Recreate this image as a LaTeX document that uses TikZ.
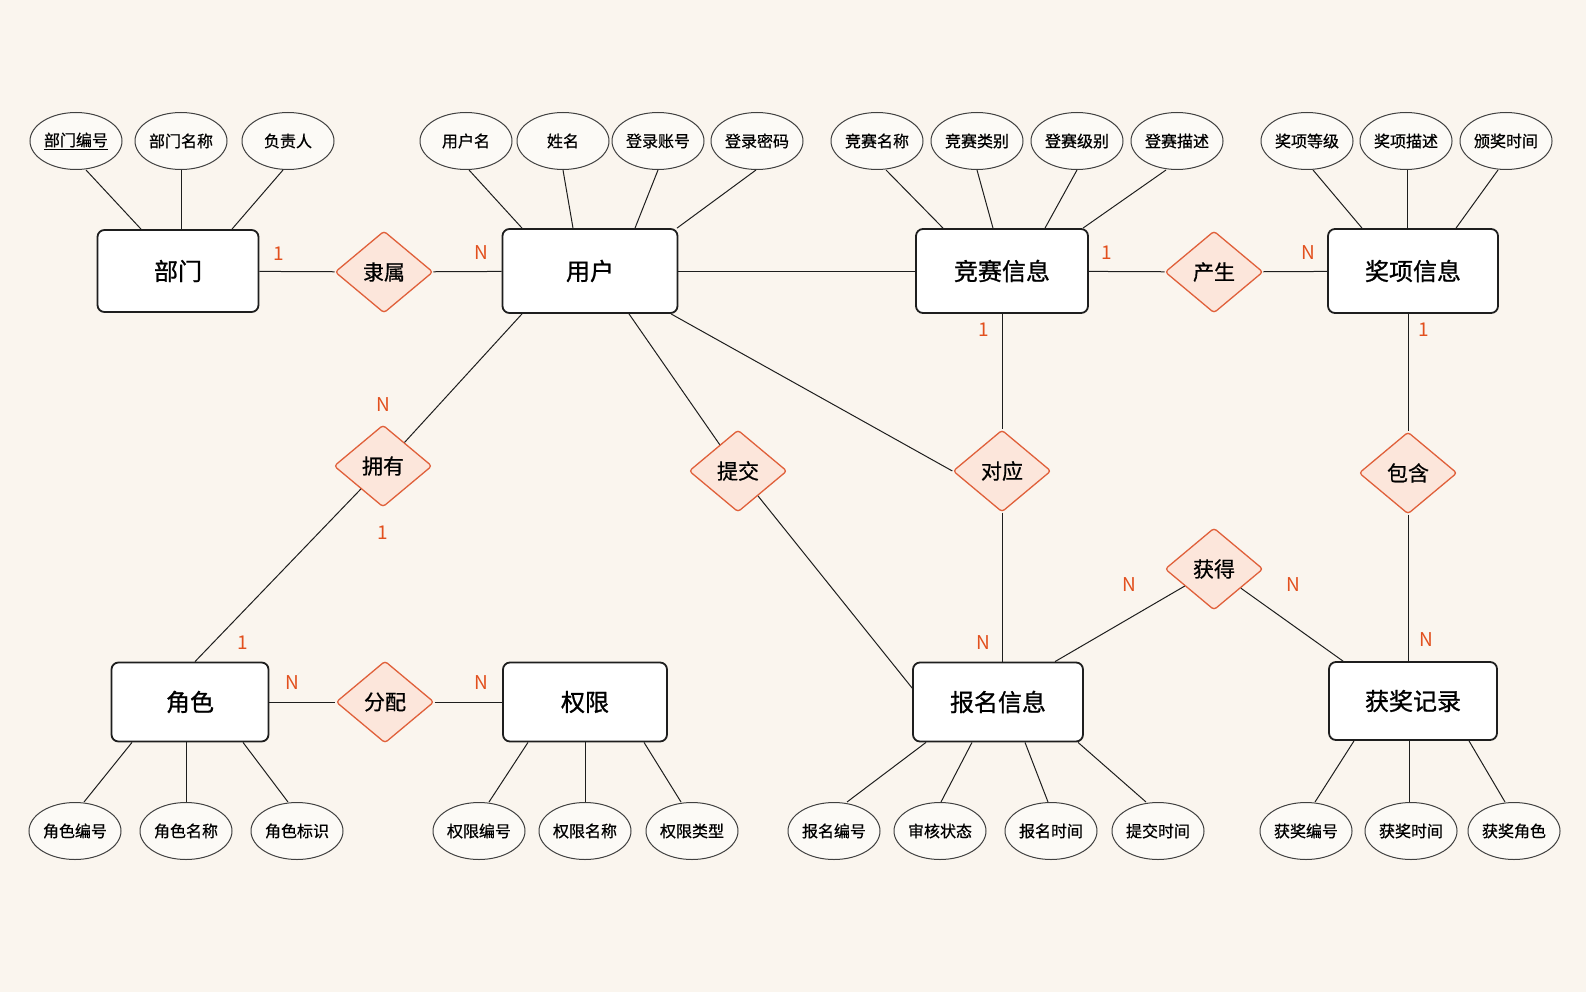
\documentclass[tikz,border=0pt]{standalone}
\usepackage{fontspec}
\setmainfont{Noto Sans CJK SC}
\newfontfamily\entfont[FakeBold=1.0]{Noto Sans CJK SC}
\newfontfamily\attfont[FakeBold=0.6]{Noto Sans CJK SC}
\usetikzlibrary{shapes.geometric}
\definecolor{bg}{HTML}{FAF5EE}
\definecolor{relc}{HTML}{E0603A}
\definecolor{relfill}{HTML}{FCE6DB}
\definecolor{card}{HTML}{E2501E}
\definecolor{ink}{HTML}{1E1E1E}
\begin{document}
\begin{tikzpicture}[x=1pt,y=-1pt,
 entity/.style={draw=ink, line width=1.8pt, rounded corners=7pt, fill=white, font=\entfont\fontsize{24}{28}\selectfont, inner sep=0},
 attr/.style={ellipse, draw=ink!85, line width=1pt, fill=bg!50!white, minimum width=92pt, minimum height=57pt, inner sep=0, font=\attfont\fontsize{16}{19}\selectfont},
 relb/.style={diamond, draw=relc, line width=1.3pt, fill=relfill, minimum width=98pt, minimum height=82pt, inner sep=0, rounded corners=3pt, font=\attfont\fontsize{21}{24}\selectfont},
 link/.style={draw=ink, line width=1pt},
 cardl/.style={text=card, font=\fontsize{19}{22}\selectfont, inner sep=0}
]
\fill[bg] (0,0) rectangle (1586,992);
\useasboundingbox (0,0) rectangle (1586,992);

% entities
\node[entity, minimum width=161pt, minimum height=82pt] (dept) at (178,271) {部门};
\node[entity, minimum width=175pt, minimum height=84pt] (user) at (590,271) {用户};
\node[entity, minimum width=172pt, minimum height=84pt] (comp) at (1002,271) {竞赛信息};
\node[entity, minimum width=170pt, minimum height=84pt] (prize) at (1413,271) {奖项信息};
\node[entity, minimum width=157pt, minimum height=79pt] (role) at (190,702) {角色};
\node[entity, minimum width=164pt, minimum height=79pt] (perm) at (585,702) {权限};
\node[entity, minimum width=170pt, minimum height=79pt] (reg) at (998,702) {报名信息};
\node[entity, minimum width=168pt, minimum height=78pt] (rec) at (1413,701) {获奖记录};

% relationships
\node[relb] (belong) at (384,272) {隶属};
\node[relb] (produce) at (1214,272) {产生};
\node[relb] (own) at (383,466) {拥有};
\node[relb] (submit) at (738,471) {提交};
\node[relb] (corr) at (1002,471) {对应};
\node[relb] (incl) at (1408,473) {包含};
\node[relb] (gain) at (1214,569) {获得};
\node[relb] (assign) at (385,702) {分配};

% attributes top
\node[attr] (d1) at (76,141) {\underline{部门编号}};
\node[attr] (d2) at (181,141) {部门名称};
\node[attr] (d3) at (288,141) {负责人};
\node[attr] (u1) at (466,141) {用户名};
\node[attr] (u2) at (563,141) {姓名};
\node[attr] (u3) at (658,141) {登录账号};
\node[attr] (u4) at (757,141) {登录密码};
\node[attr] (c1) at (877,141) {竞赛名称};
\node[attr] (c2) at (977,141) {竞赛类别};
\node[attr] (c3) at (1077,141) {登赛级别};
\node[attr] (c4) at (1177,141) {登赛描述};
\node[attr] (p1) at (1307,141) {奖项等级};
\node[attr] (p2) at (1406,141) {奖项描述};
\node[attr] (p3) at (1506,141) {颁奖时间};
% attributes bottom
\node[attr] (r1) at (75,831) {角色编号};
\node[attr] (r2) at (186,831) {角色名称};
\node[attr] (r3) at (297,831) {角色标识};
\node[attr] (q1) at (479,831) {权限编号};
\node[attr] (q2) at (585,831) {权限名称};
\node[attr] (q3) at (692,831) {权限类型};
\node[attr] (g1) at (834,831) {报名编号};
\node[attr] (g2) at (940,831) {审核状态};
\node[attr] (g3) at (1051,831) {报名时间};
\node[attr] (g4) at (1158,831) {提交时间};
\node[attr] (w1) at (1306,831) {获奖编号};
\node[attr] (w2) at (1411,831) {获奖时间};
\node[attr] (w3) at (1514,831) {获奖角色};

% attribute links
\draw[link] (d1.south -| 86,0) -- (dept.north -| 141,0);
\draw[link] (d2.south -| 181,0) -- (dept.north -| 181,0);
\draw[link] (d3.south -| 283,0) -- (dept.north -| 232,0);
\draw[link] (u1.south -| 469,0) -- (user.north -| 522,0);
\draw[link] (u2.south -| 563,0) -- (user.north -| 573,0);
\draw[link] (u3.south -| 658,0) -- (user.north -| 635,0);
\draw[link] (u4.south -| 756,0) -- (user.north -| 677,0);
\draw[link] (c1.south -| 886,0) -- (comp.north -| 943,0);
\draw[link] (c2.south -| 977,0) -- (comp.north -| 993,0);
\draw[link] (c3.south -| 1077,0) -- (comp.north -| 1045,0);
\draw[link] (c4.south -| 1166,0) -- (comp.north -| 1083,0);
\draw[link] (p1.south -| 1313,0) -- (prize.north -| 1362,0);
\draw[link] (p2.south -| 1407,0) -- (prize.north -| 1407,0);
\draw[link] (p3.south -| 1498,0) -- (prize.north -| 1456,0);
\draw[link] (r1.north -| 84,0) -- (role.south -| 132,0);
\draw[link] (r2.north -| 186,0) -- (role.south -| 186,0);
\draw[link] (r3.north -| 288,0) -- (role.south -| 243,0);
\draw[link] (q1.north -| 489,0) -- (perm.south -| 528,0);
\draw[link] (q2.north -| 585,0) -- (perm.south -| 585,0);
\draw[link] (q3.north -| 681,0) -- (perm.south -| 644,0);
\draw[link] (g1.north -| 847,0) -- (reg.south -| 926,0);
\draw[link] (g2.north -| 941,0) -- (reg.south -| 972,0);
\draw[link] (g3.north -| 1048,0) -- (reg.south -| 1025,0);
\draw[link] (g4.north -| 1146,0) -- (reg.south -| 1078,0);
\draw[link] (w1.north -| 1315,0) -- (rec.south -| 1354,0);
\draw[link] (w2.north -| 1409,0) -- (rec.south -| 1409,0);
\draw[link] (w3.north -| 1505,0) -- (rec.south -| 1469,0);

% relationship links
\draw[link] (dept) -- (belong);
\draw[link] (belong) -- (user);
\draw[link] (user) -- (comp);
\draw[link] (comp) -- (produce);
\draw[link] (produce) -- (prize);
\draw[link] (user.south -| 522,0) -- (own);
\draw[link] (own) -- (role.north -| 195,0);
\draw[link] (user.south -| 629,0) -- (submit);
\draw[link] (submit) -- (reg.west |- 0,688);
\draw[link] (user.south -| 671,0) -- (corr.west);
\draw[link] (comp) -- (corr);
\draw[link] (corr) -- (corr |- reg.north);
\draw[link] (prize.south -| 1408,0) -- (incl);
\draw[link] (incl) -- (incl |- rec.north);
\draw[link] (reg.north -| 1055,0) -- (gain);
\draw[link] (gain) -- (rec.north -| 1343,0);
\draw[link] (role) -- (assign);
\draw[link] (assign) -- (perm);

% cardinalities
\node[cardl] (k1) at (279,254) {1};
\node[cardl] (k2) at (481,253) {N};
\node[cardl] (k3) at (1107,253) {1};
\node[cardl] (k4) at (1308,253) {N};
\node[cardl] (k5) at (984,330) {1};
\node[cardl] (k6) at (1424,330) {1};
\node[cardl] (k7) at (383,405) {N};
\node[cardl] (k8) at (383,533) {1};
\node[cardl] (k9) at (243,643) {1};
\node[cardl] (k10) at (292,683) {N};
\node[cardl] (k11) at (481,683) {N};
\node[cardl] (k12) at (983,643) {N};
\node[cardl] (k13) at (1129,585) {N};
\node[cardl] (k14) at (1293,585) {N};
\node[cardl] (k15) at (1426,640) {N};
\end{tikzpicture}
\end{document}
